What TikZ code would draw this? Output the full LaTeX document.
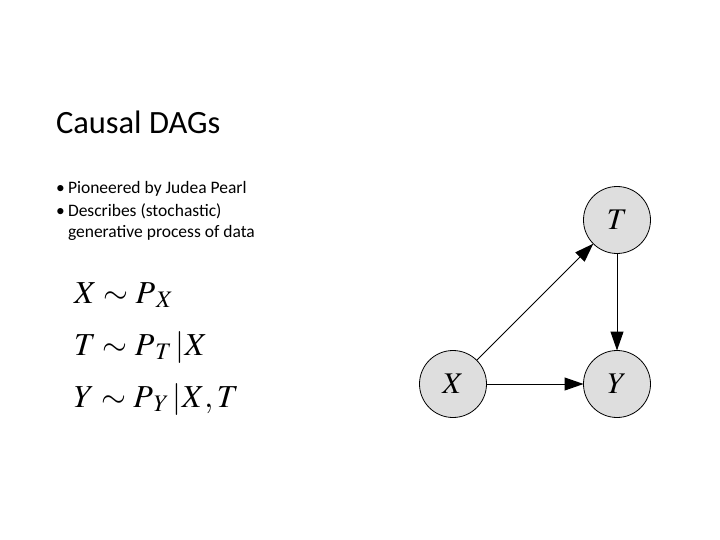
\documentclass[tikz,border=0pt]{standalone}
\usepackage{mathptmx}
\usepackage{fontspec}
\setmainfont{Carlito}
\usepackage{tikz}
\usetikzlibrary{arrows.meta,positioning}
\definecolor{nodegray}{RGB}{222,222,222}
\newcommand{\psub}[1]{P_{\kern5pt #1}}

\begin{document}
\begin{tikzpicture}[
  x=1pt, y=-1pt,
  every node/.style={inner sep=0pt, outer sep=0pt},
  title/.style={anchor=base west, font=\fontsize{32.5}{36}\selectfont},
  bullet/.style={anchor=base west, font=\fontsize{17.5}{20}\selectfont},
  eqn/.style={anchor=base west, font=\fontsize{32}{36}\selectfont},
  var/.style={draw, circle, fill=nodegray, line width=0.8pt, minimum size=67pt, font=\fontsize{30}{32}\selectfont},
  edge/.style={-{Triangle[length=19pt, width=13pt]}, line width=1pt}
]
  \useasboundingbox (0,0) rectangle (720,540);

  % Title
  \node[title] (ttl) at (56,134) {Causal DAGs};

  % Bullet list
  \node[bullet] (dot1) at (56,194) {\textbullet};
  \node[bullet] (txt1) at (68,194) {Pioneered by Judea Pearl};
  \node[bullet] (dot2) at (56,217) {\textbullet};
  \node[bullet] (txt2) at (68,217) {Describes (stochastic)};
  \node[bullet] (txt3) at (68,237) {generative process of data};

  % Generative equations
  \node[eqn] (eqx) at (74,303) {$X \sim \psub{X}$};
  \node[eqn] (eqt) at (74,355) {$T \sim \psub{T}\,{|}X$};
  \node[eqn] (eqy) at (74,407) {$Y \sim \psub{Y}\,{|}X, T$};

  % DAG nodes
  \node[var] (T) at (617,220) {$T$};
  \node[var] (X) at (453,384) {$X$};
  \node[var] (Y) at (617,384) {$Y$};

  % DAG edges
  \draw[edge] (X) -- (T);
  \draw[edge] (T) -- (Y);
  \draw[edge] (X) -- (Y);

\end{tikzpicture}
\end{document}
